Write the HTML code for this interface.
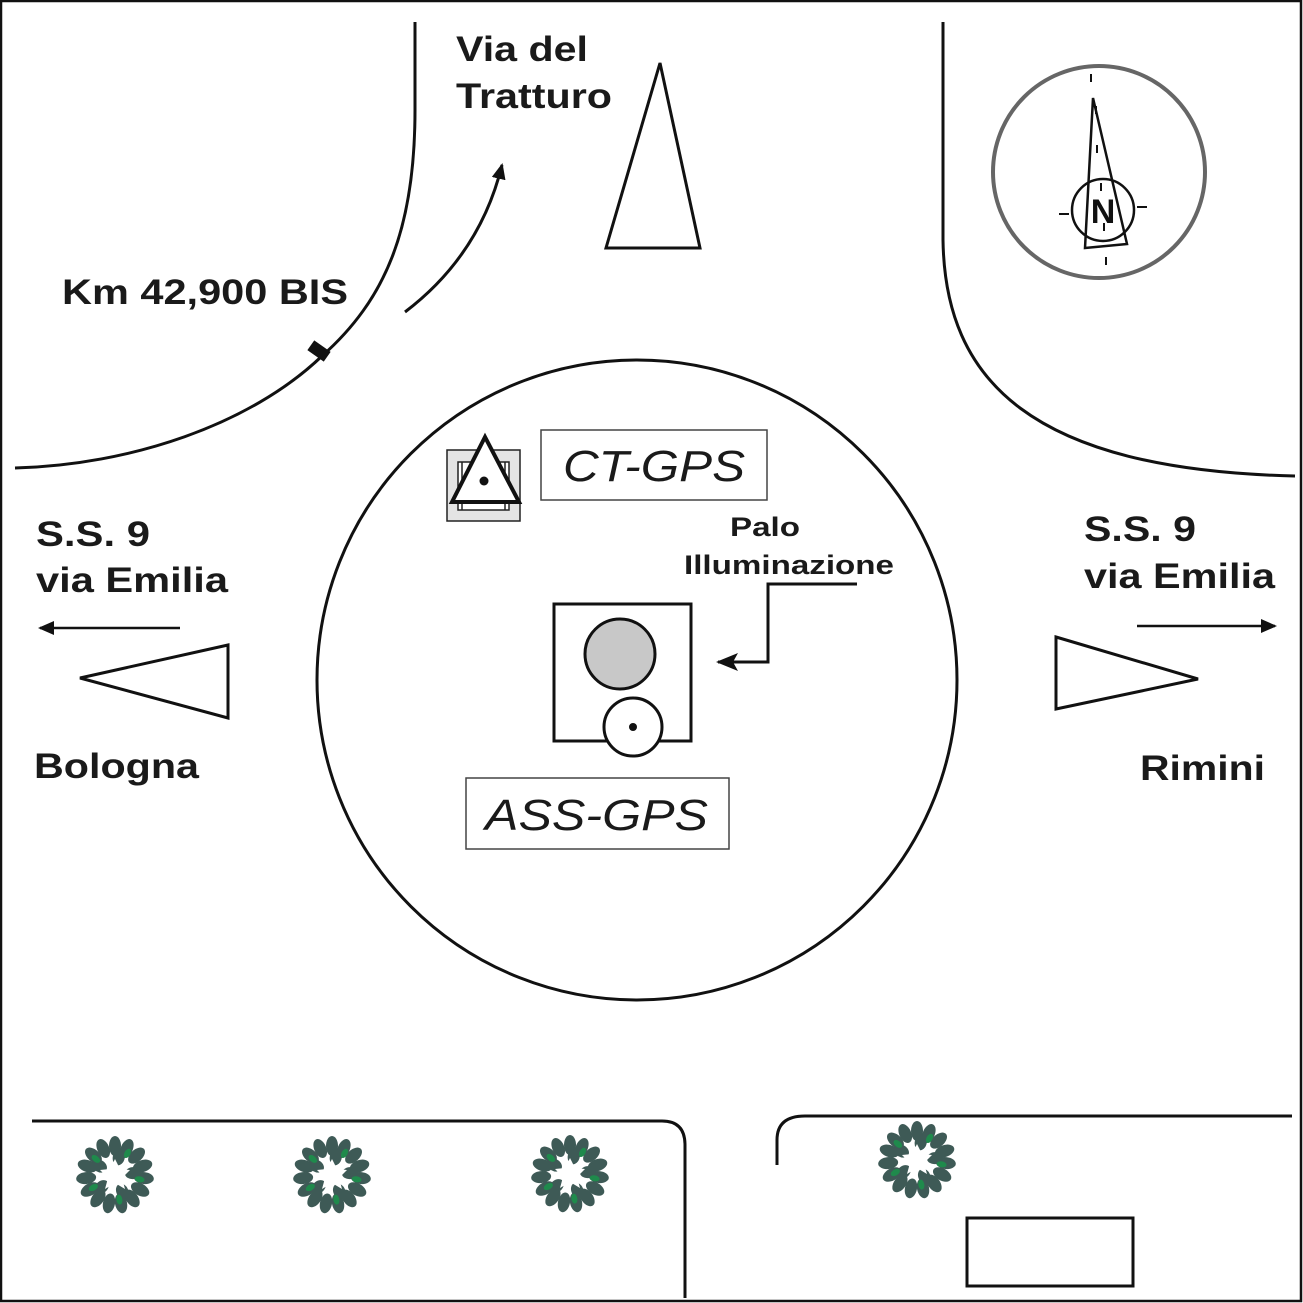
<!DOCTYPE html>
<html><head><style>html,body{margin:0;padding:0;background:#fff}svg{display:block}text{font-family:"Liberation Sans",Arial,sans-serif}</style></head>
<body>
<svg width="1303" height="1303" viewBox="0 0 1303 1303" xmlns="http://www.w3.org/2000/svg">
<defs>
<marker id="ah" markerWidth="16" markerHeight="14" refX="14" refY="7" orient="auto" markerUnits="userSpaceOnUse"><path d="M0,0 L16,7 L0,14 Z" fill="#111"/></marker>
<marker id="ah2" markerWidth="22" markerHeight="18" refX="20" refY="9" orient="auto" markerUnits="userSpaceOnUse"><path d="M0,0 L22,9 L0,18 L5,9 Z" fill="#111"/></marker>
<g id="tree">
<g fill="#3e5a56">
<ellipse cx="0" cy="-29" rx="6" ry="10"/><ellipse cx="0" cy="-29" rx="6" ry="10" transform="rotate(24)"/><ellipse cx="0" cy="-29" rx="6" ry="10" transform="rotate(48)"/><ellipse cx="0" cy="-29" rx="6" ry="10" transform="rotate(72)"/><ellipse cx="0" cy="-29" rx="6" ry="10" transform="rotate(96)"/><ellipse cx="0" cy="-29" rx="6" ry="10" transform="rotate(120)"/><ellipse cx="0" cy="-29" rx="6" ry="10" transform="rotate(144)"/><ellipse cx="0" cy="-29" rx="6" ry="10" transform="rotate(168)"/><ellipse cx="0" cy="-29" rx="6" ry="10" transform="rotate(192)"/><ellipse cx="0" cy="-29" rx="6" ry="10" transform="rotate(216)"/><ellipse cx="0" cy="-29" rx="6" ry="10" transform="rotate(240)"/><ellipse cx="0" cy="-29" rx="6" ry="10" transform="rotate(264)"/><ellipse cx="0" cy="-29" rx="6" ry="10" transform="rotate(288)"/><ellipse cx="0" cy="-29" rx="6" ry="10" transform="rotate(312)"/><ellipse cx="0" cy="-29" rx="6" ry="10" transform="rotate(336)"/>
<ellipse cx="0" cy="-18" rx="6" ry="8" transform="rotate(12)"/><ellipse cx="0" cy="-18" rx="6" ry="8" transform="rotate(84)"/><ellipse cx="0" cy="-18" rx="6" ry="8" transform="rotate(156)"/><ellipse cx="0" cy="-18" rx="6" ry="8" transform="rotate(228)"/><ellipse cx="0" cy="-18" rx="6" ry="8" transform="rotate(300)"/>
</g>
<g fill="#1f8a4c">
<ellipse cx="0" cy="-25" rx="3" ry="5" transform="rotate(30)"/><ellipse cx="0" cy="-25" rx="3" ry="5" transform="rotate(100)"/><ellipse cx="0" cy="-25" rx="3" ry="5" transform="rotate(170)"/><ellipse cx="0" cy="-25" rx="3" ry="5" transform="rotate(240)"/><ellipse cx="0" cy="-25" rx="3" ry="5" transform="rotate(310)"/>
</g>
<path d="M0,-16 L5,-6 L15,-5 L7,3 L10,14 L0,8 L-10,14 L-7,3 L-15,-5 L-5,-6 Z" fill="#fff"/>
</g>
</defs>
<rect x="1" y="1" width="1300" height="1300" fill="#fff" stroke="#111" stroke-width="2.5"/>
<g fill="none" stroke="#111" stroke-width="3">
<path d="M415,22 V110 C415,230 385,300 322,356 C250,425 130,465 15,468"/>
<path d="M943,22 V240 C945,380 1030,470 1295,476"/>
<path d="M32,1121 H662 Q685,1121 685,1145 V1298"/>
<path d="M777,1165 V1140 Q777,1116 805,1116 H1292"/>
<rect x="967" y="1218" width="166" height="68"/>
<circle cx="637" cy="680" r="320"/>
<rect x="554" y="604" width="137" height="137"/>
<path d="M405,312 Q480,255 502,165" marker-end="url(#ah)"/>
<path d="M857,584 H768 V662 H718" marker-end="url(#ah2)"/>
<path d="M180,628 H40" stroke-width="2.5" marker-end="url(#ah)"/>
<path d="M1137,626 H1275" stroke-width="2.5" marker-end="url(#ah)"/>
<polygon points="660,63 606,248 700,248" stroke-width="3"/>
<polygon points="228,645 80,678 228,718" stroke-width="3"/>
<polygon points="1056,637 1198,679 1056,709" stroke-width="3"/>
</g>
<rect x="309" y="345" width="20" height="12" fill="#111" transform="rotate(35 319 351)"/>
<circle cx="620" cy="654" r="35" fill="#c8c8c8" stroke="#111" stroke-width="3"/>
<circle cx="633" cy="727" r="29" fill="#fff" stroke="#111" stroke-width="3"/>
<circle cx="633" cy="727" r="4" fill="#111"/>
<rect x="541" y="430" width="226" height="70" fill="#fff" stroke="#444" stroke-width="1.5"/>
<rect x="466" y="778" width="263" height="71" fill="#fff" stroke="#444" stroke-width="1.5"/>
<g>
<rect x="447" y="450" width="73" height="71" fill="#e4e4e4" stroke="#222" stroke-width="1.5"/>
<rect x="458" y="462" width="51" height="48" fill="#fff" stroke="#222" stroke-width="1.5"/>
<path d="M462,462 V510 M505,462 V510" stroke="#222" stroke-width="1.5"/>
<polygon points="485,437 452,502 519,502" fill="#fff" stroke="#111" stroke-width="4"/>
<circle cx="484" cy="481" r="4.5" fill="#111"/>
</g>
<g>
<circle cx="1099" cy="172" r="106" fill="none" stroke="#666" stroke-width="4"/>
<polygon points="1093,98 1085,248 1127,244" fill="none" stroke="#111" stroke-width="2.5"/>
<circle cx="1103" cy="210" r="31" fill="none" stroke="#111" stroke-width="2.5"/>
<path d="M1091,74 v8 M1106,257 v8 M1059,214 h10 M1137,207 h10 M1096,106 v8 M1097,145 v8 M1101,183 v8 M1104,223 v8" stroke="#111" stroke-width="2"/>
<text x="1103" y="223" font-size="34" font-weight="bold" text-anchor="middle" fill="#111">N</text>
</g>
<use href="#tree" x="115" y="1175"/>
<use href="#tree" x="332" y="1175"/>
<use href="#tree" x="570" y="1174"/>
<use href="#tree" x="917" y="1160"/>
<g font-weight="bold" fill="#1a1a1a" font-size="35">
<text x="456" y="61" textLength="132" lengthAdjust="spacingAndGlyphs">Via del</text>
<text x="456" y="108" textLength="156" lengthAdjust="spacingAndGlyphs">Tratturo</text>
<text x="62" y="304" textLength="286" lengthAdjust="spacingAndGlyphs">Km 42,900 BIS</text>
<text x="36" y="546" textLength="114" lengthAdjust="spacingAndGlyphs">S.S. 9</text>
<text x="36" y="592" textLength="192" lengthAdjust="spacingAndGlyphs">via Emilia</text>
<text x="34" y="778" textLength="165" lengthAdjust="spacingAndGlyphs">Bologna</text>
<text x="1084" y="541" textLength="112" lengthAdjust="spacingAndGlyphs">S.S. 9</text>
<text x="1084" y="588" textLength="191" lengthAdjust="spacingAndGlyphs">via Emilia</text>
<text x="1140" y="780" textLength="125" lengthAdjust="spacingAndGlyphs">Rimini</text>
<text x="730" y="536" font-size="27" textLength="70" lengthAdjust="spacingAndGlyphs">Palo</text>
<text x="684" y="574" font-size="27" textLength="210" lengthAdjust="spacingAndGlyphs">Illuminazione</text>
</g>
<g font-style="italic" font-size="44" fill="#1a1a1a">
<text x="563" y="481" textLength="182" lengthAdjust="spacingAndGlyphs">CT-GPS</text>
<text x="485" y="830" textLength="223" lengthAdjust="spacingAndGlyphs">ASS-GPS</text>
</g>
</svg>
</body></html>
